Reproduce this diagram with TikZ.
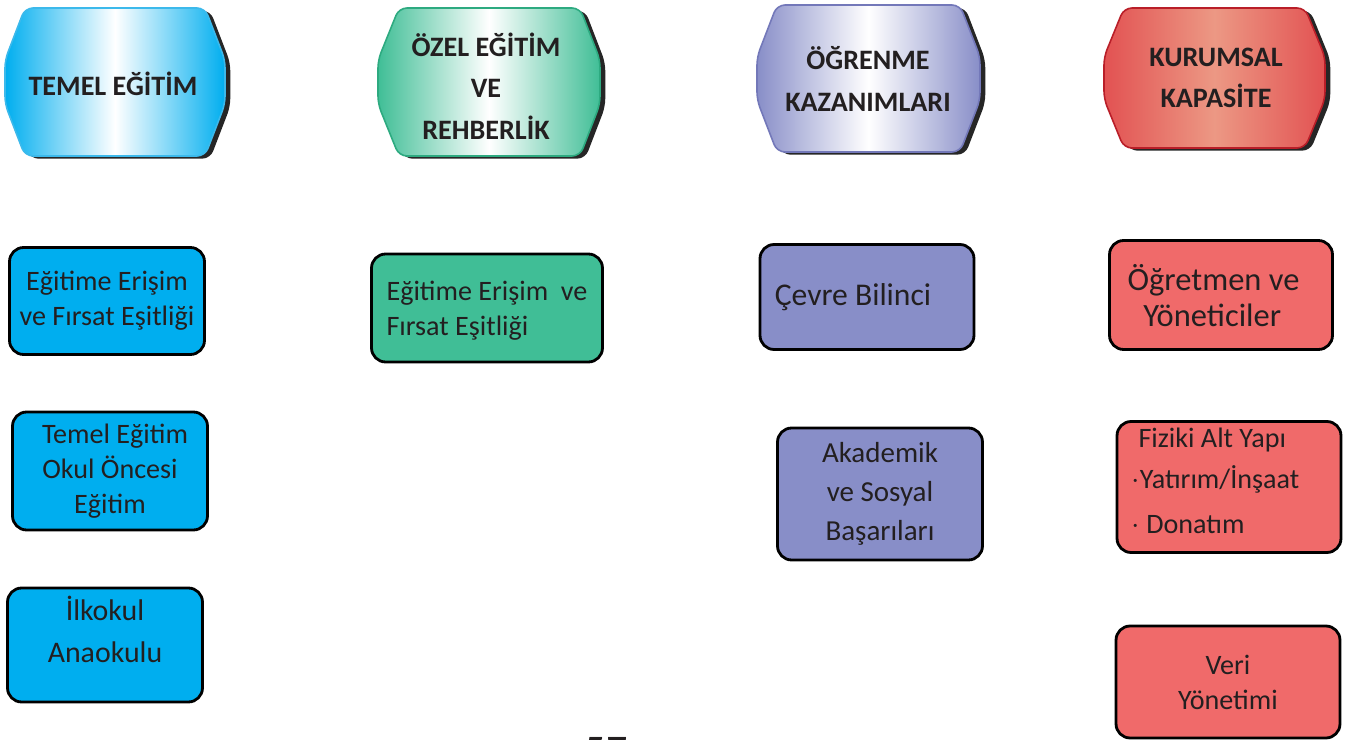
\documentclass[tikz,border=0pt]{standalone}
\usepackage{fontspec}
\setmainfont{Carlito}
\definecolor{TemelBlue}  {RGB}{0,174,239}
\definecolor{TemelLine}  {RGB}{60,185,235}
\definecolor{OzelGreen}  {RGB}{64,190,150}
\definecolor{OzelLine}   {RGB}{45,170,128}
\definecolor{OgrPurple}  {RGB}{136,142,200}
\definecolor{OgrLine}    {RGB}{115,120,185}
\definecolor{KurRed}     {RGB}{240,106,106}
\definecolor{KurHdr}     {RGB}{226,82,82}
\definecolor{KurMid}     {RGB}{236,152,132}
\definecolor{KurLine}    {RGB}{185,30,40}
\definecolor{InkText}    {RGB}{35,31,32}
\usetikzlibrary{positioning,shadows}

\begin{document}
\begin{tikzpicture}[x=0.02cm,y=-0.02cm,
  hdrback/.style={rounded corners=4.5pt,line width=0.9pt,
              drop shadow={shadow xshift=3pt,shadow yshift=-1.5pt,
                           fill=black,opacity=0.85}},
  hdr/.style={font=\fontsize{16}{23.5}\selectfont\bfseries,text=InkText,
              align=center,inner sep=0pt},
  box/.style={draw=black,line width=1.6pt,rounded corners=8pt,
              font=\fontsize{16}{20}\selectfont,text=InkText,
              align=center,inner sep=0pt}]
  \useasboundingbox (0,0) rectangle (1346,740);

  % column headers
  \path[hdrback,draw=TemelLine,left color=TemelBlue,right color=TemelBlue,
        middle color=white]
        (25,8) -- (205,8) -- (225,60) -- (225,104) -- (205,156)
        -- (25,156) -- (5,104) -- (5,60) -- cycle;
  \node[hdr] (TE) at (113,84) {TEMEL EĞİTİM};
  \path[hdrback,draw=OzelLine,left color=OzelGreen,right color=OzelGreen,
        middle color=white]
        (399,8) -- (580,8) -- (600,60) -- (600,104) -- (580,156)
        -- (399,156) -- (378,104) -- (378,60) -- cycle;
  \node[hdr] (OE) at (486,86) {ÖZEL EĞİTİM\\VE\\REHBERLİK};
  \path[hdrback,draw=OgrLine,left color=OgrPurple,right color=OgrPurple,
        middle color=white]
        (777,5) -- (960,5) -- (980,57) -- (980,100) -- (960,152)
        -- (777,152) -- (757,100) -- (757,57) -- cycle;
  \node[hdr] (OK) at (868,79) {ÖĞRENME\\KAZANIMLARI};
  \path[hdrback,draw=KurLine,left color=KurHdr,right color=KurHdr,
        middle color=KurMid]
        (1124,8) -- (1305,8) -- (1325,57) -- (1325,99) -- (1305,148)
        -- (1124,148) -- (1104,99) -- (1104,57) -- cycle;
  \node[hdr] (KK) at (1216,78) {KURUMSAL\\KAPASİTE};

  % temel egitim
  \node[box,fill=TemelBlue,minimum width=3.9cm,minimum height=2.14cm]
        (TE1) at (107,301) {Eğitime Erişim\\ve Fırsat Eşitliği};
  \node[box,fill=TemelBlue,minimum width=3.9cm,minimum height=2.36cm]
        (TE2) at (110,471) {\hspace{0.2cm}Temel Eğitim\\Okul Öncesi\\Eğitim};
  \node[box,fill=TemelBlue,minimum width=3.9cm,minimum height=2.28cm,
        font=\fontsize{17}{24}\selectfont,text depth=0.64cm]
        (TE3) at (105,645) {İlkokul\\Anaokulu};

  % ozel egitim
  \node[box,fill=OzelGreen,minimum width=4.62cm,minimum height=2.16cm,
        align=left,text depth=-0.25cm] (OE1) at (487,308)
        {Eğitime Erişim~ ve\\Fırsat Eşitliği};

  % ogrenme kazanimlari
  \node[box,fill=OgrPurple,minimum width=4.28cm,minimum height=2.1cm,
        font=\fontsize{18}{22}\selectfont] (OK1) at (867,297)
        {Çevre Bilinci\hspace*{0.56cm}};
  \node[box,fill=OgrPurple,minimum width=4.1cm,minimum height=2.64cm,
        font=\fontsize{16.5}{22}\selectfont] (OK2) at (880,494)
        {Akademik\\ve Sosyal\\Başarıları};

  % kurumsal kapasite
  \node[box,fill=KurRed,minimum width=4.46cm,minimum height=2.18cm,
        font=\fontsize{18.5}{20.5}\selectfont,text depth=-0.5cm]
        (KK1) at (1221,295) {Öğretmen ve\hspace*{0.3cm}\\Yöneticiler\hspace*{0.35cm}};
  \node[box,fill=KurRed,minimum width=4.48cm,minimum height=2.62cm,
        text width=3.9cm,align=flush left,font=\fontsize{16}{23}\selectfont,
        text height=0.15cm] (KK2) at (1229,487)
        {\hspace{0.14cm}Fiziki Alt Yapı\\$\cdot$Yatırım/İnşaat\\[3pt]$\cdot$ Donatım};
  \node[box,fill=KurRed,minimum width=4.48cm,minimum height=2.24cm]
        (KK3) at (1228,682) {Veri\\Yönetimi};

  \node[font=\fontsize{24}{24}\selectfont,text=InkText] (PG) at (606,751) {57};
\end{tikzpicture}
\end{document}
